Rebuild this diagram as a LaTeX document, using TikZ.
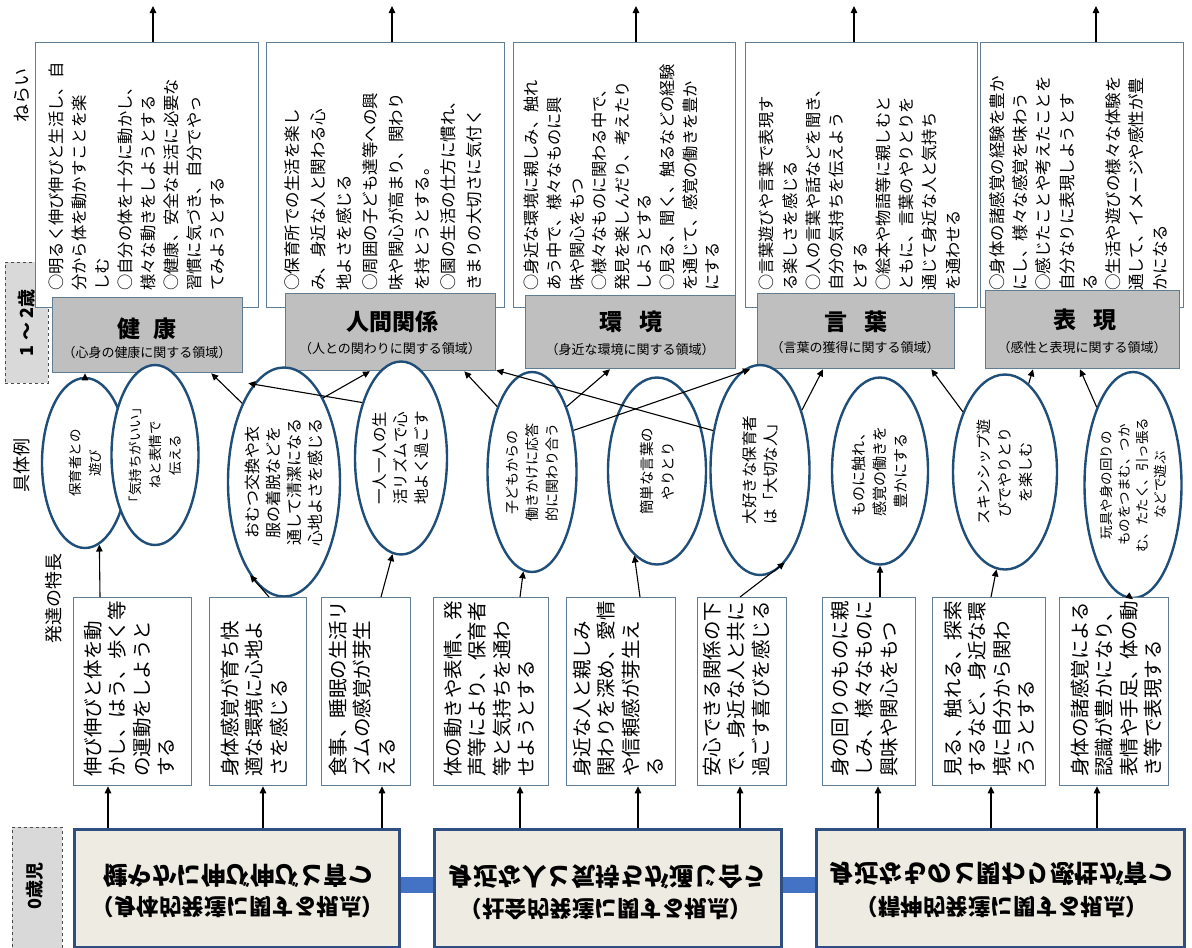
\documentclass[tikz,border=0pt]{standalone}
\usepackage{fontspec}
\setmainfont{Noto Sans CJK JP}
\usepackage{graphicx}
\usetikzlibrary{shapes.geometric,arrows.meta,calc}
\definecolor{bigblue}{RGB}{47,78,130}
\definecolor{cream}{RGB}{238,236,226}
\definecolor{barblue}{RGB}{68,114,196}
\definecolor{boxline}{RGB}{95,125,148}
\definecolor{grayfill}{RGB}{191,191,191}
\definecolor{ellline}{RGB}{31,78,121}
\definecolor{labelfill}{RGB}{217,217,217}
\newcommand{\flipv}[1]{\scalebox{1}[-1]{#1}}
\begin{document}
\begin{tikzpicture}[x=1pt,y=-1pt,
  arr/.style={-{Triangle[length=7pt,width=6.5pt]}, line width=1.1pt, black},
  rbox/.style={draw=boxline, line width=1.3pt, fill=white, anchor=north west, inner sep=0, rectangle},
  gbox/.style={draw=boxline, line width=1.3pt, fill=grayfill, anchor=north west, inner sep=0, rectangle},
  bbox/.style={draw=bigblue, line width=2.6pt, fill=cream, anchor=north west, inner sep=0, rectangle},
  lbox/.style={draw=black!70, dashed, line width=0.9pt, fill=labelfill, anchor=north west, inner sep=0, rectangle},
  ell/.style={draw=ellline, line width=2.4pt, fill=white, ellipse, inner sep=0},
  nrtext/.style={rotate=90, anchor=north west, align=left, inner sep=0},
  dtext/.style={rotate=90, anchor=north west, align=left, inner sep=0, font=\fontsize{19.5}{24.5}\selectfont},
  etext/.style={rotate=90, align=center, inner sep=0},
  gtitle/.style={inner sep=0, font=\bfseries\fontsize{23}{26}\selectfont},
  gsub/.style={inner sep=0, font=\fontsize{13}{15}\selectfont},
  btext/.style={inner sep=0, font=\bfseries\fontsize{24.5}{28}\selectfont},
  bsub/.style={inner sep=0, font=\bfseries\fontsize{22.5}{26}\selectfont},
  rowlab/.style={rotate=90, inner sep=0, font=\fontsize{18}{20}\selectfont}
]
\useasboundingbox (0,0) rectangle (1192,948);
\fill[white] (0,0) rectangle (1192,948);

% ---------- row labels ----------
\node[rowlab] (labNerai) at (22,95) {ねらい};
\node[lbox, minimum width=43pt, minimum height=121pt] (lab12box) at (5,262) {};
\node[rowlab, font=\bfseries\fontsize{18}{20}\selectfont] (lab12) at (lab12box.center) {1 ～ 2歳};
\node[rowlab] (labGutai) at (22,465) {具体例};
\node[rowlab] (labHattatsu) at (54,598) {発達の特長};
\node[lbox, minimum width=50pt, minimum height=125pt] (lab0box) at (12,827) {};
\node[rowlab, font=\bfseries\fontsize{18}{20}\selectfont] (lab0) at (35,886) {0歳児};

% ---------- ねらい boxes ----------
\node[rbox, minimum width=223pt, minimum height=265pt] (nr1) at (35,42) {};
\node[rbox, minimum width=238pt, minimum height=265pt] (nr2) at (266,42) {};
\node[rbox, minimum width=222pt, minimum height=265pt] (nr3) at (513,42) {};
\node[rbox, minimum width=232pt, minimum height=265pt] (nr4) at (745,42) {};
\node[rbox, minimum width=203pt, minimum height=265pt] (nr5) at (980,42) {};

\node[nrtext, font=\fontsize{16.3}{23}\selectfont] (nr1t) at (49,291) {○明るく伸び伸びと生活し、自\\分から体を動かすことを楽\\しむ\\○自分の体を十分に動かし、\\様々な動きをしようとする\\○健康、安全な生活に必要な\\習慣に気づき、自分でやっ\\てみようとする};
\node[nrtext, font=\fontsize{16.5}{26}\selectfont] (nr2t) at (284,291) {○保育所での生活を楽し\\み、身近な人と関わる心\\地よさを感じる\\○周囲の子ども達等への興\\味や関心が高まり、関わり\\を持とうとする。\\○園の生活の仕方に慣れ、\\きまりの大切さに気付く};
\node[nrtext, font=\fontsize{16.2}{22.6}\selectfont] (nr3t) at (524,291) {○身近な環境に親しみ、触れ\\あう中で、様々なものに興\\味や関心をもつ\\○様々なものに関わる中で、\\発見を楽しんだり、考えたり\\しようとする\\○見る、聞く、触るなどの経験\\を通じて、感覚の働きを豊か\\にする};
\node[nrtext, font=\fontsize{16.2}{23.3}\selectfont] (nr4t) at (759,291) {○言葉遊びや言葉で表現す\\る楽しさを感じる\\○人の言葉や話などを聞き、\\自分の気持ちを伝えよう\\とする\\○絵本や物語等に親しむと\\ともに、言葉のやりとりを\\通じて身近な人と気持ち\\を通わせる};
\node[nrtext, font=\fontsize{16.5}{23.3}\selectfont] (nr5t) at (989,291) {○身体の諸感覚の経験を豊か\\にし、様々な感覚を味わう\\○感じたことや考えたことを\\自分なりに表現しようとす\\る\\○生活や遊びの様々な体験を\\通して、イメージや感性が豊\\かになる};

% top arrows
\coordinate (t1) at (153,6);
\coordinate (t2) at (392,6);
\coordinate (t3) at (636,6);
\coordinate (t4) at (854,6);
\coordinate (t5) at (1096,6);
\draw[arr] (nr1.north -| t1) -- (t1);
\draw[arr] (nr2.north -| t2) -- (t2);
\draw[arr] (nr3.north -| t3) -- (t3);
\draw[arr] (nr4.north -| t4) -- (t4);
\draw[arr] (nr5.north -| t5) -- (t5);

% ---------- gray domain boxes ----------
\node[gbox, minimum width=190pt, minimum height=75pt] (g1) at (52,297) {};
\node[gbox, minimum width=210pt, minimum height=77pt] (g2) at (285,293) {};
\node[gbox, minimum width=210pt, minimum height=73pt] (g3) at (525,295) {};
\node[gbox, minimum width=197pt, minimum height=75pt] (g4) at (757,293) {};
\node[gbox, minimum width=194pt, minimum height=78pt] (g5) at (985,290) {};
\node[gtitle] (g1a) at (147,329) {健\hspace{0.55em}康};
\node[gsub] (g1b) at (147,353) {（心身の健康に関する領域）};
\node[gtitle] (g2a) at (392,322) {人間関係};
\node[gsub] (g2b) at (390,349) {（人との関わりに関する領域）};
\node[gtitle] (g3a) at (631,322) {環\hspace{0.75em}境};
\node[gsub] (g3b) at (630,350) {（身近な環境に関する領域）};
\node[gtitle] (g4a) at (856,322) {言\hspace{0.75em}葉};
\node[gsub] (g4b) at (855,348) {（言葉の獲得に関する領域）};
\node[gtitle] (g5a) at (1085,320) {表\hspace{0.75em}現};
\node[gsub] (g5b) at (1082,348) {（感性と表現に関する領域）};

% ---------- ellipses ----------
\node[ell, minimum width=86pt, minimum height=170pt] (E1) at (85,463) {};
\node[ell, minimum width=87pt, minimum height=180pt] (E2) at (155,455) {};
\node[ell, minimum width=112pt, minimum height=229pt] (E3) at (284,482) {};
\node[ell, minimum width=92pt, minimum height=193pt] (E4) at (401,458) {};
\node[ell, minimum width=89pt, minimum height=200pt] (E5) at (532,472) {};
\node[ell, minimum width=98pt, minimum height=187pt] (E6) at (657,471) {};
\node[ell, minimum width=99pt, minimum height=210pt] (E7) at (760,470) {};
\node[ell, minimum width=96pt, minimum height=187pt] (E8) at (880,471) {};
\node[ell, minimum width=104pt, minimum height=195pt] (E9) at (1005,472) {};
\node[ell, minimum width=97pt, minimum height=226pt] (E10) at (1133,485) {};

\node[etext, font=\fontsize{13.5}{20}\selectfont] (E1t) at (E1.center) {保育者との\\遊び};
\node[etext, font=\fontsize{13.5}{20}\selectfont] (E2t) at (E2.center) {「気持ちがいい」\\ねと表情で\\伝える};
\node[etext, font=\fontsize{16}{21}\selectfont] (E3t) at (E3.center) {おむつ交換や衣\\服の着脱などを\\通して清潔になる\\心地よさを感じる};
\node[etext, font=\fontsize{15.5}{21}\selectfont] (E4t) at (E4.center) {一人一人の生\\活リズムで心\\地よく過ごす};
\node[etext, font=\fontsize{14}{20}\selectfont] (E5t) at (E5.center) {子どもからの\\働きかけに応答\\的に関わり合う};
\node[etext, font=\fontsize{14.5}{21}\selectfont] (E6t) at (E6.center) {簡単な言葉の\\やりとり};
\node[etext, font=\fontsize{15.5}{21}\selectfont] (E7t) at (E7.center) {大好きな保育者\\は「大切な人」};
\node[etext, font=\fontsize{15}{21}\selectfont] (E8t) at (E8.center) {ものに触れ、\\感覚の働きを\\豊かにする};
\node[etext, font=\fontsize{15}{21}\selectfont] (E9t) at (E9.center) {スキンシップ遊\\びでやりとり\\を楽しむ};
\node[etext, font=\fontsize{13.5}{18}\selectfont] (E10t) at (E10.center) {玩具や身の回りの\\ものをつまむ、つか\\む、たたく、引っ張る\\などで遊ぶ};

% ellipse -> domain arrows
\draw[arr] (E1.north) -- (E1.north |- g1.south);
\draw[arr] (E3.118) -- ([xshift=-32pt]g1.south east);
\draw[arr] (E4.125) -- ([xshift=5pt,yshift=-10pt]g1.south east);
\draw[arr] (E3.65) -- ([xshift=85pt]g2.south west);
\draw[arr] (E5.118) -- ([xshift=-32pt]g2.south east);
\draw[arr] (E7.140) -- ([yshift=1pt]g2.south east);
\draw[arr] (E5.62) -- ([xshift=85pt]g3.south west);
\draw[arr] (E5.45) -- ([xshift=-7pt]g4.south west);
\draw[arr] (E7.55) -- ([xshift=66pt]g4.south west);
\draw[arr] (E9.125) -- ([xshift=-24pt]g4.south east);
\draw[arr] (E9.75) -- ([xshift=48pt]g5.south west);
\draw[arr] (E10.115) -- ([xshift=95pt]g5.south west);

% ---------- 発達の特長 boxes ----------
\node[rbox, minimum width=118pt, minimum height=188pt] (d1) at (73,597) {};
\node[rbox, minimum width=97pt, minimum height=188pt] (d2) at (209,597) {};
\node[rbox, minimum width=89pt, minimum height=188pt] (d3) at (321,597) {};
\node[rbox, minimum width=115pt, minimum height=188pt] (d4) at (433,597) {};
\node[rbox, minimum width=109pt, minimum height=188pt] (d5) at (566,597) {};
\node[rbox, minimum width=89pt, minimum height=188pt] (d6) at (697,597) {};
\node[rbox, minimum width=93pt, minimum height=188pt] (d7) at (822,597) {};
\node[rbox, minimum width=113pt, minimum height=188pt] (d8) at (932,597) {};
\node[rbox, minimum width=109pt, minimum height=188pt] (d9) at (1059,597) {};

\node[dtext] (d1t) at (83.5,777) {伸び伸びと体を動\\かし、はう、歩く等\\の運動をしようと\\する};
\node[dtext] (d2t) at (220.5,777) {身体感覚が育ち快\\適な環境に心地よ\\さを感じる};
\node[dtext] (d3t) at (328.5,777) {食事、睡眠の生活リ\\ズムの感覚が芽生\\える};
\node[dtext] (d4t) at (443.5,777) {体の動きや表情、発\\声等により、保育者\\等と気持ちを通わ\\せようとする};
\node[dtext] (d5t) at (572.5,777) {身近な人と親しみ\\関わりを深め、愛情\\や信頼感が芽生え\\る};
\node[dtext] (d6t) at (702.5,777) {安心できる関係の下\\で、身近な人と共に\\過ごす喜びを感じる};
\node[dtext] (d7t) at (830.5,777) {身の回りのものに親\\しみ、様々なものに\\興味や関心をもつ};
\node[dtext] (d8t) at (943.5,777) {見る、触れる、探索\\するなど、身近な環\\境に自分から関わ\\ろうとする};
\node[dtext] (d9t) at (1070.5,777) {身体の諸感覚による\\認識が豊かになり、\\表情や手足、体の動\\き等で表現する};

% 発達 -> ellipse arrows
\draw[arr] ([xshift=27pt]d1.north west) -- (E1.-80);
\draw[arr] ([xshift=60pt]d2.north west) -- (E3.-110);
\draw[arr] ([xshift=60pt]d3.north west) -- (E4.-95);
\draw[arr] ([xshift=87pt]d4.north west) -- (E5.-95);
\draw[arr] ([xshift=74pt]d5.north west) -- (E6.-105);
\draw[arr] ([xshift=43pt]d6.north west) -- (E7.-75);
\draw[arr] ([xshift=58pt]d7.north west) -- (E8.-90);
\draw[arr] ([xshift=59pt]d8.north west) -- (E9.-95);
\draw[arr] ([xshift=71pt]d9.north west) -- (E10.-90);

% ---------- big perspective boxes ----------
\fill[barblue] (398,877) rectangle (433,893);
\fill[barblue] (780,877) rectangle (815,893);
\node[bbox, minimum width=325pt, minimum height=118pt] (B1) at (73,828) {};
\node[bbox, minimum width=347pt, minimum height=118pt] (B2) at (433,828) {};
\node[bbox, minimum width=368pt, minimum height=118pt] (B3) at (815,828) {};
\node[btext] (B1a) at (238,876) {\flipv{健やかに伸び伸びと育つ}};
\node[bsub] (B1b) at (238,907) {\flipv{（身体的発達に関する視点）}};
\node[btext] (B2a) at (608,877) {\flipv{身近な人と気持ちが通じ合う}};
\node[bsub] (B2b) at (606,909) {\flipv{（社会的発達に関する視点）}};
\node[btext] (B3a) at (1001,874) {\flipv{身近なものと関わり感性が育つ}};
\node[bsub] (B3b) at (1002,907) {\flipv{（精神的発達に関する視点）}};

% big box -> 発達 arrows
\draw[arr] ([xshift=35pt]B1.north west) -- ([xshift=35pt]B1.north west |- d1.south);
\draw[arr] ([xshift=190pt]B1.north west) -- ([xshift=190pt]B1.north west |- d2.south);
\draw[arr] ([xshift=309pt]B1.north west) -- ([xshift=309pt]B1.north west |- d3.south);
\draw[arr] ([xshift=87pt]B2.north west) -- ([xshift=87pt]B2.north west |- d4.south);
\draw[arr] ([xshift=205pt]B2.north west) -- ([xshift=205pt]B2.north west |- d5.south);
\draw[arr] ([xshift=307pt]B2.north west) -- ([xshift=307pt]B2.north west |- d6.south);
\draw[arr] ([xshift=63pt]B3.north west) -- ([xshift=63pt]B3.north west |- d7.south);
\draw[arr] ([xshift=176pt]B3.north west) -- ([xshift=176pt]B3.north west |- d8.south);
\draw[arr] ([xshift=282pt]B3.north west) -- ([xshift=282pt]B3.north west |- d9.south);
\end{tikzpicture}
\end{document}
